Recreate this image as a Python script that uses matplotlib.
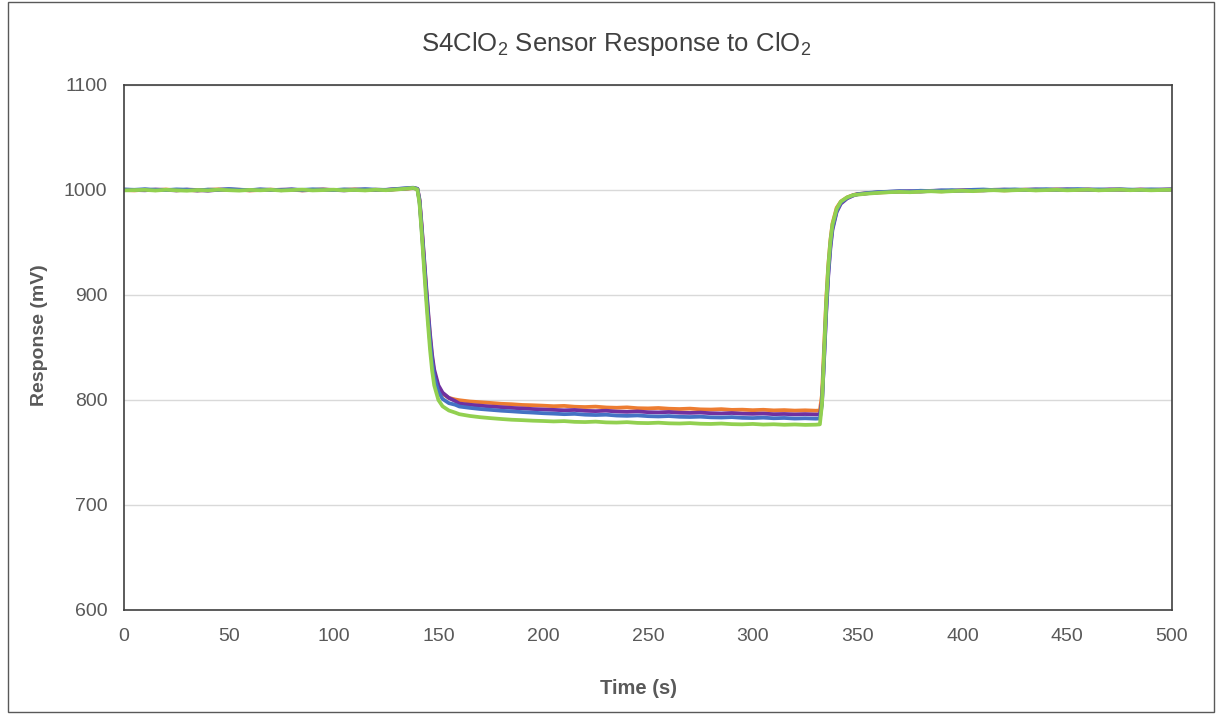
import matplotlib
matplotlib.use("Agg")
import matplotlib.pyplot as plt
from matplotlib.patches import Rectangle

plt.rcParams['font.family'] = ['Liberation Sans', 'DejaVu Sans']
plt.rcParams['mathtext.default'] = 'regular'

title = "S4ClO$_2$ Sensor Response to ClO$_2$"
x_label = "Time (s)"
y_label = "Response (mV)"
x_ticks = [0, 50, 100, 150, 200, 250, 300, 350, 400, 450, 500]
y_ticks = [600, 700, 800, 900, 1000, 1100]

time_s = [
    0, 5, 10, 15, 20, 25, 30, 35, 40, 45, 50, 55, 60, 65, 70, 75, 80, 85, 90, 95,
    100, 105, 110, 115, 120, 125, 130, 135,
    138, 140, 141, 142, 143, 144, 145, 146, 147, 148, 150, 152, 155, 158,
    160, 165, 170, 175, 180, 185, 190, 195, 200, 205, 210, 215, 220, 225, 230, 235,
    240, 245, 250, 255, 260, 265, 270, 275, 280, 285, 290, 295, 300, 305, 310, 315,
    320, 325, 330,
    332, 333, 334, 335, 336, 337, 338, 340, 342, 345, 348,
    350, 355, 360, 365, 370, 375, 380, 385, 390, 395, 400, 405, 410, 415, 420, 425,
    430, 435, 440, 445, 450, 455, 460, 465, 470, 475, 480, 485, 490, 495, 500,
]

orange = [
    1000.0, 999.6, 1000.3, 999.8, 1000.5, 999.7, 1000.1, 999.4, 1000.2, 1000.6, 999.9, 1000.3, 999.5, 1000.0,
    1000.4, 999.8, 1000.2, 999.6, 1000.1, 1000.5, 999.9, 1000.2, 1000.6, 999.8, 1000.3, 1000.0, 1000.7, 1001.2,
    1001.8, 1001.0, 990, 965, 938, 910, 884, 860, 840, 826, 812, 806, 802, 800.5,
    799.8, 798.6, 797.9, 797.2, 796.4, 796.0, 795.3, 795.0, 794.6, 794.1, 794.4, 793.6, 793.3, 793.7, 792.9, 792.6,
    793.0, 792.2, 792.0, 792.4, 791.7, 791.4, 791.8, 791.1, 790.9, 791.3, 790.6, 790.8, 790.3, 790.7, 790.1, 790.4,
    789.9, 790.2, 789.8,
    790.0, 805, 850, 895, 928, 952, 968, 983, 989, 993, 995.3,
    996.2, 997.0, 997.6, 998.0, 998.5, 998.2, 998.8, 999.1, 998.7, 999.3, 999.6, 999.2, 999.8, 1000.1, 999.6, 1000.0,
    1000.3, 999.8, 1000.2, 1000.5, 999.9, 1000.1, 1000.4, 999.8, 1000.2, 1000.5, 1000.0, 1000.3, 999.9, 1000.2, 1000.4,
]

purple = [
    1000.3, 1000.0, 999.7, 1000.5, 1000.1, 999.6, 1000.4, 1000.0, 999.3, 1000.2, 1000.7, 1000.1, 999.8, 1000.4,
    999.9, 1000.3, 1000.6, 999.7, 1000.0, 1000.4, 1000.1, 999.6, 1000.3, 1000.5, 999.9, 1000.2, 1000.9, 1001.5,
    1002.0, 1001.2, 991, 967, 940, 913, 887, 863, 843, 829, 814, 807, 802, 799,
    796.6, 795.5, 794.6, 793.8, 793.2, 792.5, 792.0, 791.4, 791.0, 790.6, 790.2, 790.5, 789.7, 789.4, 789.8, 789.0,
    788.7, 789.1, 788.4, 788.2, 788.6, 787.9, 787.7, 788.0, 787.4, 787.2, 787.6, 787.0, 786.8, 787.1, 786.5, 786.7,
    786.3, 786.6, 786.2,
    786.3, 798, 838, 882, 918, 944, 962, 979, 987, 992, 994.8,
    995.9, 996.9, 997.8, 998.3, 998.6, 998.9, 998.5, 999.2, 999.5, 999.0, 999.7, 1000.0, 999.6, 1000.2, 1000.4, 999.9,
    1000.3, 1000.6, 1000.1, 1000.4, 1000.7, 1000.2, 1000.5, 1000.1, 1000.6, 1000.3, 1000.0, 1000.5, 1000.2, 1000.4, 1000.6,
]

blue = [
    1000.5, 1000.2, 1000.8, 1000.1, 999.9, 1000.6, 1000.3, 999.5, 1000.4, 1000.1, 1000.9, 1000.3, 999.9, 1000.6,
    1000.2, 999.8, 1000.5, 1000.1, 1000.7, 1000.3, 999.9, 1000.6, 1000.2, 1000.8, 1000.4, 1000.1, 1001.0, 1001.8,
    1002.2, 1001.0, 989, 963, 935, 907, 880, 856, 836, 822, 808, 801, 797, 795.5,
    793.8, 792.5, 791.4, 790.6, 789.8, 789.2, 788.5, 788.0, 787.4, 787.0, 786.5, 786.8, 786.0, 785.7, 786.0, 785.2,
    784.9, 785.3, 784.6, 784.3, 784.7, 784.0, 783.8, 784.1, 783.5, 783.3, 783.7, 783.0, 782.8, 783.2, 782.6, 782.9,
    782.3, 782.6, 782.2,
    782.4, 796, 840, 885, 921, 947, 964, 980, 988, 992.5, 995.0,
    996.0, 997.2, 998.0, 998.4, 998.9, 998.6, 999.3, 999.0, 999.6, 999.9, 999.4, 1000.2, 1000.5, 999.9, 1000.3, 1000.6,
    1000.1, 1000.4, 1000.8, 1000.2, 1000.5, 1000.9, 1000.3, 1000.6, 1000.2, 1000.7, 1000.4, 1000.1, 1000.6, 1000.3, 1000.5,
]

green = [
    999.6, 999.9, 1000.1, 999.5, 1000.2, 999.7, 999.3, 1000.0, 999.6, 1000.3, 999.8, 999.4, 1000.1, 999.7,
    1000.2, 999.5, 999.9, 1000.4, 999.6, 999.9, 1000.3, 999.7, 1000.0, 999.6, 1000.2, 999.8, 1000.5, 1001.3,
    1002.0, 1000.5, 987, 960, 930, 900, 873, 848, 828, 814, 800, 794, 790, 788,
    786.5, 784.8, 783.6, 782.7, 781.9, 781.2, 780.8, 780.3, 780.0, 779.6, 779.9, 779.2, 779.0, 779.4, 778.7, 778.5,
    778.9, 778.2, 778.0, 778.4, 777.8, 777.6, 778.0, 777.4, 777.2, 777.6, 777.0, 776.8, 777.2, 776.6, 776.9, 776.4,
    776.7, 776.3, 776.5,
    776.8, 796, 845, 892, 927, 951, 967, 982, 989, 993, 995.2,
    995.6, 996.6, 997.3, 997.9, 998.2, 997.9, 998.4, 998.8, 998.4, 998.9, 999.3, 998.9, 999.5, 999.8, 999.4, 999.8,
    1000.1, 999.6, 999.9, 1000.2, 999.7, 1000.0, 1000.3, 999.7, 1000.0, 1000.3, 999.8, 1000.1, 999.7, 1000.0, 1000.2,
]

series = [
    (orange, "#ED7D31"),
    (purple, "#7030A0"),
    (blue, "#4472C4"),
    (green, "#92D050"),
]

W, H = 1223, 714
fig = plt.figure(figsize=(W / 100, H / 100), dpi=100)
ax = fig.add_axes([124 / W, 1 - 610 / H, (1172 - 124) / W, (610 - 85) / H])

for vals, col in series:
    ax.plot(time_s, vals, color=col, lw=2.7, solid_joinstyle='round', solid_capstyle='round')

ax.set_xlim(0, 500)
ax.set_ylim(600, 1100)
ax.set_xticks(x_ticks)
ax.set_yticks(y_ticks)
ax.tick_params(axis='both', length=0, labelsize=14, colors='#595959')
ax.tick_params(axis='x', pad=13)
ax.tick_params(axis='y', pad=12)
ax.grid(axis='y', color='#D9D9D9', lw=1)
ax.set_axisbelow(True)
for sp in ax.spines.values():
    sp.set_color('#404040')
    sp.set_linewidth(1.2)

fig.text(616 / W, 1 - 44 / H, title, ha='center', va='center', fontsize=18.5, color='#404040')
fig.text(639 / W, 1 - 688 / H, x_label, ha='center', va='center', fontsize=14.5,
         fontweight='bold', color='#595959')
fig.text(40 / W, 1 - 335 / H, y_label, ha='center', va='center', fontsize=14,
         fontweight='bold', color='#595959', rotation=90)

fig.patches.append(Rectangle((8 / W, 2 / H), (1214 - 8) / W, (712 - 2) / H,
                             transform=fig.transFigure, fill=False,
                             edgecolor='#595959', lw=1))

fig.savefig("out.png", dpi=100, facecolor='white')
